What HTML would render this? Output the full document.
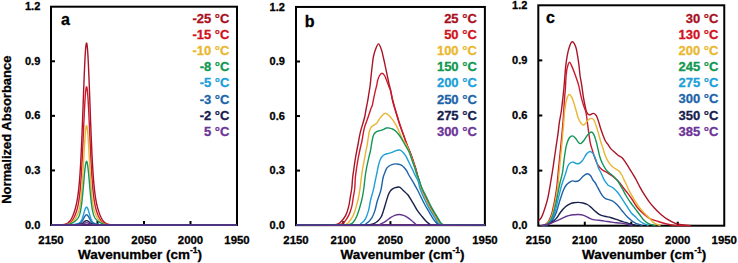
<!DOCTYPE html>
<html><head><meta charset="utf-8"><style>
html,body{margin:0;padding:0;background:#fff;}
body{width:738px;height:263px;overflow:hidden;font-family:"Liberation Sans",sans-serif;}
svg{display:block;}
</style></head><body>
<svg width="738" height="263" viewBox="0 0 738 263">
<defs>
<clipPath id="ca"><rect x="51.00" y="4.70" width="186.00" height="221.80"/></clipPath>
<clipPath id="cb"><rect x="296.00" y="4.95" width="188.90" height="221.70"/></clipPath>
<clipPath id="cc"><rect x="538.30" y="3.30" width="185.95" height="223.90"/></clipPath>
</defs>
<g font-family="Liberation Sans, sans-serif" font-weight="bold" stroke-linejoin="round">
<g stroke="#000" stroke-width="2" fill="none" stroke-linejoin="miter"><line x1="51.00" y1="170.43" x2="55.00" y2="170.43"/><line x1="51.00" y1="115.85" x2="55.00" y2="115.85"/><line x1="51.00" y1="61.27" x2="55.00" y2="61.27"/><line x1="97.50" y1="225.00" x2="97.50" y2="221.00"/><line x1="144.00" y1="225.00" x2="144.00" y2="221.00"/><line x1="190.50" y1="225.00" x2="190.50" y2="221.00"/><rect x="51.00" y="6.70" width="186.00" height="218.30" fill="none"/></g>
<g stroke="#000" stroke-width="2" fill="none" stroke-linejoin="miter"><line x1="296.00" y1="170.60" x2="300.00" y2="170.60"/><line x1="296.00" y1="116.05" x2="300.00" y2="116.05"/><line x1="296.00" y1="61.50" x2="300.00" y2="61.50"/><line x1="343.23" y1="225.15" x2="343.23" y2="221.15"/><line x1="390.45" y1="225.15" x2="390.45" y2="221.15"/><line x1="437.67" y1="225.15" x2="437.67" y2="221.15"/><rect x="296.00" y="6.95" width="188.90" height="218.20" fill="none"/></g>
<g stroke="#000" stroke-width="2" fill="none" stroke-linejoin="miter"><line x1="538.30" y1="170.60" x2="542.30" y2="170.60"/><line x1="538.30" y1="115.50" x2="542.30" y2="115.50"/><line x1="538.30" y1="60.40" x2="542.30" y2="60.40"/><line x1="584.79" y1="225.70" x2="584.79" y2="221.70"/><line x1="631.27" y1="225.70" x2="631.27" y2="221.70"/><line x1="677.76" y1="225.70" x2="677.76" y2="221.70"/><rect x="538.30" y="5.30" width="185.95" height="220.40" fill="none"/></g>
<line x1="52.00" y1="225.00" x2="236.00" y2="225.00" stroke="#62348C" stroke-width="1.7"/>
<line x1="297.00" y1="225.15" x2="483.90" y2="225.15" stroke="#62348C" stroke-width="1.7"/>
<g fill="none" stroke-width="1.40" stroke-linejoin="round" stroke-linecap="round" clip-path="url(#ca)"><path d="M51.00,225.00 L53.00,225.00 L55.00,224.99 L57.00,224.98 L57.25,224.98 L57.50,224.98 L57.75,224.97 L58.00,224.97 L58.25,224.96 L58.50,224.96 L58.75,224.95 L59.00,224.95 L59.25,224.94 L59.50,224.93 L59.75,224.92 L60.00,224.91 L60.25,224.90 L60.50,224.89 L60.75,224.88 L61.00,224.86 L61.25,224.85 L61.50,224.83 L61.75,224.81 L62.00,224.78 L62.25,224.76 L62.50,224.73 L62.75,224.70 L63.00,224.66 L63.25,224.63 L63.50,224.59 L63.75,224.54 L64.00,224.49 L64.25,224.44 L64.50,224.38 L64.75,224.31 L65.00,224.24 L65.25,224.16 L65.50,224.08 L65.75,223.99 L66.00,223.89 L66.25,223.78 L66.50,223.66 L66.75,223.54 L67.00,223.40 L67.25,223.25 L67.50,223.09 L67.75,222.92 L68.00,222.74 L68.25,222.54 L68.50,222.33 L68.75,222.11 L69.00,221.87 L69.25,221.61 L69.50,221.34 L69.75,221.04 L70.00,220.73 L70.25,220.40 L70.50,220.05 L70.75,219.68 L71.00,219.29 L71.25,218.88 L71.50,218.44 L71.75,217.99 L72.00,217.50 L72.25,216.99 L72.50,216.46 L72.75,215.90 L73.00,215.32 L73.25,214.70 L73.50,214.06 L73.75,213.39 L74.00,212.69 L74.25,211.96 L74.50,211.20 L74.75,210.40 L75.00,209.56 L75.25,208.68 L75.50,207.76 L75.75,206.80 L76.00,205.78 L76.25,204.70 L76.50,203.56 L76.75,202.35 L77.00,201.05 L77.25,199.66 L77.50,198.16 L77.75,196.55 L78.00,194.80 L78.25,192.90 L78.50,190.83 L78.75,188.57 L79.00,186.11 L79.25,183.41 L79.50,180.47 L79.75,177.26 L80.00,173.75 L80.25,169.95 L80.50,165.83 L80.75,161.38 L81.00,156.60 L81.25,151.49 L81.50,146.06 L81.75,140.31 L82.00,134.28 L82.25,128.00 L82.50,121.49 L82.75,114.82 L83.00,108.03 L83.25,101.19 L83.50,94.37 L83.75,87.65 L84.00,81.11 L84.25,74.84 L84.50,68.91 L84.75,63.42 L85.00,58.45 L85.25,54.06 L85.50,50.34 L85.75,47.34 L86.00,45.11 L86.25,43.69 L86.50,43.10 L86.75,43.35 L87.00,44.44 L87.25,46.35 L87.50,49.05 L87.75,52.49 L88.00,56.62 L88.25,61.36 L88.50,66.66 L88.75,72.42 L89.00,78.57 L89.25,85.01 L89.50,91.67 L89.75,98.45 L90.00,105.29 L90.25,112.11 L90.50,118.84 L90.75,125.42 L91.00,131.80 L91.25,137.93 L91.50,143.80 L91.75,149.36 L92.00,154.60 L92.25,159.51 L92.50,164.09 L92.75,168.34 L93.00,172.27 L93.25,175.89 L93.50,179.22 L93.75,182.27 L94.00,185.06 L94.25,187.61 L94.50,189.95 L94.75,192.10 L95.00,194.06 L95.25,195.87 L95.50,197.53 L95.75,199.07 L96.00,200.51 L96.25,201.84 L96.50,203.08 L96.75,204.25 L97.00,205.35 L97.25,206.40 L97.50,207.38 L97.75,208.32 L98.00,209.21 L98.25,210.07 L98.50,210.88 L98.75,211.66 L99.00,212.40 L99.25,213.12 L99.50,213.80 L99.75,214.45 L100.00,215.08 L100.25,215.67 L100.50,216.24 L100.75,216.78 L101.00,217.30 L101.25,217.79 L101.50,218.26 L101.75,218.71 L102.00,219.13 L102.25,219.53 L102.50,219.91 L102.75,220.27 L103.00,220.60 L103.25,220.92 L103.50,221.22 L103.75,221.50 L104.00,221.77 L104.25,222.01 L104.50,222.24 L104.75,222.46 L105.00,222.66 L105.25,222.85 L105.50,223.03 L105.75,223.19 L106.00,223.34 L106.25,223.48 L106.50,223.61 L106.75,223.73 L107.00,223.84 L107.25,223.95 L107.50,224.04 L107.75,224.13 L108.00,224.21 L108.25,224.28 L108.50,224.35 L108.75,224.41 L109.00,224.47 L109.25,224.52 L109.50,224.57 L109.75,224.61 L110.00,224.65 L110.25,224.68 L110.50,224.72 L110.75,224.75 L111.00,224.77 L111.25,224.80 L111.50,224.82 L111.75,224.84 L112.00,224.86 L112.25,224.87 L112.50,224.89 L112.75,224.90 L113.00,224.91 L113.25,224.92 L113.50,224.93 L113.75,224.94 L114.00,224.94 L114.25,224.95 L114.50,224.96 L114.75,224.96 L115.00,224.97 L115.25,224.97 L115.50,224.97 L115.75,224.98 L116.00,224.98 L116.25,224.98 L116.50,224.98 L116.75,224.99 L118.75,225.00 L120.75,225.00 L122.75,225.00 L124.75,225.00 L126.75,225.00 L128.75,225.00 L130.75,225.00 L132.75,225.00 L134.75,225.00 L136.75,225.00 L138.75,225.00 L140.75,225.00 L142.75,225.00 L144.75,225.00 L146.75,225.00 L148.75,225.00 L150.75,225.00 L152.75,225.00 L154.75,225.00 L156.75,225.00 L158.75,225.00 L160.75,225.00 L162.75,225.00 L164.75,225.00 L166.75,225.00 L168.75,225.00 L170.75,225.00 L172.75,225.00 L174.75,225.00 L176.75,225.00 L178.75,225.00 L180.75,225.00 L182.75,225.00 L184.75,225.00 L186.75,225.00 L188.75,225.00 L190.75,225.00 L192.75,225.00 L194.75,225.00 L196.75,225.00 L198.75,225.00 L200.75,225.00 L202.75,225.00 L204.75,225.00 L206.75,225.00 L208.75,225.00 L210.75,225.00 L212.75,225.00 L214.75,225.00 L216.75,225.00 L218.75,225.00 L220.75,225.00 L222.75,225.00 L224.75,225.00 L226.75,225.00 L228.75,225.00 L230.75,225.00 L232.75,225.00 L234.75,225.00 L236.75,225.00" stroke="#A81426"/><path d="M51.00,225.00 L53.00,225.00 L55.00,225.00 L57.00,224.99 L57.25,224.99 L57.50,224.99 L57.75,224.99 L58.00,224.99 L58.25,224.99 L58.50,224.99 L58.75,224.99 L59.00,224.98 L59.25,224.98 L59.50,224.98 L59.75,224.98 L60.00,224.97 L60.25,224.97 L60.50,224.96 L60.75,224.96 L61.00,224.95 L61.25,224.94 L61.50,224.94 L61.75,224.93 L62.00,224.92 L62.25,224.91 L62.50,224.90 L62.75,224.88 L63.00,224.87 L63.25,224.85 L63.50,224.83 L63.75,224.81 L64.00,224.79 L64.25,224.76 L64.50,224.74 L64.75,224.70 L65.00,224.67 L65.25,224.63 L65.50,224.59 L65.75,224.54 L66.00,224.49 L66.25,224.44 L66.50,224.38 L66.75,224.31 L67.00,224.24 L67.25,224.16 L67.50,224.07 L67.75,223.98 L68.00,223.88 L68.25,223.77 L68.50,223.65 L68.75,223.52 L69.00,223.38 L69.25,223.23 L69.50,223.07 L69.75,222.89 L70.00,222.71 L70.25,222.51 L70.50,222.29 L70.75,222.06 L71.00,221.82 L71.25,221.56 L71.50,221.28 L71.75,220.99 L72.00,220.68 L72.25,220.35 L72.50,220.00 L72.75,219.63 L73.00,219.24 L73.25,218.83 L73.50,218.40 L73.75,217.95 L74.00,217.48 L74.25,216.98 L74.50,216.46 L74.75,215.91 L75.00,215.34 L75.25,214.74 L75.50,214.11 L75.75,213.45 L76.00,212.76 L76.25,212.03 L76.50,211.26 L76.75,210.45 L77.00,209.58 L77.25,208.66 L77.50,207.67 L77.75,206.61 L78.00,205.46 L78.25,204.21 L78.50,202.85 L78.75,201.36 L79.00,199.72 L79.25,197.92 L79.50,195.94 L79.75,193.76 L80.00,191.35 L80.25,188.71 L80.50,185.81 L80.75,182.63 L81.00,179.18 L81.25,175.43 L81.50,171.39 L81.75,167.06 L82.00,162.44 L82.25,157.57 L82.50,152.47 L82.75,147.16 L83.00,141.70 L83.25,136.14 L83.50,130.54 L83.75,124.96 L84.00,119.48 L84.25,114.18 L84.50,109.14 L84.75,104.43 L85.00,100.14 L85.25,96.34 L85.50,93.10 L85.75,90.48 L86.00,88.52 L86.25,87.28 L86.50,86.76 L86.75,86.98 L87.00,87.94 L87.25,89.61 L87.50,91.97 L87.75,94.97 L88.00,98.56 L88.25,102.66 L88.50,107.21 L88.75,112.13 L89.00,117.34 L89.25,122.75 L89.50,128.30 L89.75,133.90 L90.00,139.49 L90.25,144.99 L90.50,150.37 L90.75,155.56 L91.00,160.53 L91.25,165.24 L91.50,169.69 L91.75,173.85 L92.00,177.71 L92.25,181.28 L92.50,184.57 L92.75,187.58 L93.00,190.32 L93.25,192.82 L93.50,195.09 L93.75,197.15 L94.00,199.02 L94.25,200.72 L94.50,202.27 L94.75,203.68 L95.00,204.97 L95.25,206.16 L95.50,207.26 L95.75,208.27 L96.00,209.22 L96.25,210.11 L96.50,210.94 L96.75,211.73 L97.00,212.48 L97.25,213.18 L97.50,213.85 L97.75,214.49 L98.00,215.10 L98.25,215.69 L98.50,216.24 L98.75,216.77 L99.00,217.28 L99.25,217.76 L99.50,218.22 L99.75,218.66 L100.00,219.08 L100.25,219.48 L100.50,219.85 L100.75,220.21 L101.00,220.55 L101.25,220.87 L101.50,221.17 L101.75,221.45 L102.00,221.72 L102.25,221.97 L102.50,222.20 L102.75,222.42 L103.00,222.63 L103.25,222.82 L103.50,223.00 L103.75,223.17 L104.00,223.32 L104.25,223.46 L104.50,223.60 L104.75,223.72 L105.00,223.83 L105.25,223.94 L105.50,224.04 L105.75,224.13 L106.00,224.21 L106.25,224.28 L106.50,224.35 L106.75,224.41 L107.00,224.47 L107.25,224.52 L107.50,224.57 L107.75,224.62 L108.00,224.66 L108.25,224.69 L108.50,224.72 L108.75,224.75 L109.00,224.78 L109.25,224.80 L109.50,224.83 L109.75,224.84 L110.00,224.86 L110.25,224.88 L110.50,224.89 L110.75,224.90 L111.00,224.92 L111.25,224.93 L111.50,224.93 L111.75,224.94 L112.00,224.95 L112.25,224.96 L112.50,224.96 L112.75,224.97 L113.00,224.97 L113.25,224.97 L113.50,224.98 L113.75,224.98 L114.00,224.98 L114.25,224.98 L114.50,224.99 L114.75,224.99 L115.00,224.99 L115.25,224.99 L115.50,224.99 L115.75,224.99 L116.00,224.99 L116.25,225.00 L116.50,225.00 L116.75,225.00 L118.75,225.00 L120.75,225.00 L122.75,225.00 L124.75,225.00 L126.75,225.00 L128.75,225.00 L130.75,225.00 L132.75,225.00 L134.75,225.00 L136.75,225.00 L138.75,225.00 L140.75,225.00 L142.75,225.00 L144.75,225.00 L146.75,225.00 L148.75,225.00 L150.75,225.00 L152.75,225.00 L154.75,225.00 L156.75,225.00 L158.75,225.00 L160.75,225.00 L162.75,225.00 L164.75,225.00 L166.75,225.00 L168.75,225.00 L170.75,225.00 L172.75,225.00 L174.75,225.00 L176.75,225.00 L178.75,225.00 L180.75,225.00 L182.75,225.00 L184.75,225.00 L186.75,225.00 L188.75,225.00 L190.75,225.00 L192.75,225.00 L194.75,225.00 L196.75,225.00 L198.75,225.00 L200.75,225.00 L202.75,225.00 L204.75,225.00 L206.75,225.00 L208.75,225.00 L210.75,225.00 L212.75,225.00 L214.75,225.00 L216.75,225.00 L218.75,225.00 L220.75,225.00 L222.75,225.00 L224.75,225.00 L226.75,225.00 L228.75,225.00 L230.75,225.00 L232.75,225.00 L234.75,225.00 L236.75,225.00" stroke="#CC1A2C"/><path d="M51.00,225.00 L53.00,225.00 L55.00,225.00 L57.00,225.00 L57.25,225.00 L57.50,225.00 L57.75,224.99 L58.00,224.99 L58.25,224.99 L58.50,224.99 L58.75,224.99 L59.00,224.99 L59.25,224.99 L59.50,224.99 L59.75,224.98 L60.00,224.98 L60.25,224.98 L60.50,224.98 L60.75,224.97 L61.00,224.97 L61.25,224.96 L61.50,224.96 L61.75,224.95 L62.00,224.95 L62.25,224.94 L62.50,224.93 L62.75,224.93 L63.00,224.92 L63.25,224.91 L63.50,224.89 L63.75,224.88 L64.00,224.87 L64.25,224.85 L64.50,224.83 L64.75,224.81 L65.00,224.79 L65.25,224.76 L65.50,224.74 L65.75,224.71 L66.00,224.68 L66.25,224.64 L66.50,224.60 L66.75,224.56 L67.00,224.51 L67.25,224.46 L67.50,224.41 L67.75,224.35 L68.00,224.28 L68.25,224.21 L68.50,224.13 L68.75,224.05 L69.00,223.96 L69.25,223.87 L69.50,223.76 L69.75,223.65 L70.00,223.53 L70.25,223.40 L70.50,223.27 L70.75,223.12 L71.00,222.96 L71.25,222.80 L71.50,222.62 L71.75,222.43 L72.00,222.23 L72.25,222.02 L72.50,221.80 L72.75,221.57 L73.00,221.32 L73.25,221.06 L73.50,220.78 L73.75,220.50 L74.00,220.20 L74.25,219.88 L74.50,219.55 L74.75,219.21 L75.00,218.85 L75.25,218.48 L75.50,218.09 L75.75,217.69 L76.00,217.27 L76.25,216.84 L76.50,216.38 L76.75,215.91 L77.00,215.41 L77.25,214.89 L77.50,214.33 L77.75,213.75 L78.00,213.12 L78.25,212.45 L78.50,211.71 L78.75,210.92 L79.00,210.04 L79.25,209.07 L79.50,207.99 L79.75,206.78 L80.00,205.43 L80.25,203.91 L80.50,202.20 L80.75,200.29 L81.00,198.15 L81.25,195.76 L81.50,193.12 L81.75,190.21 L82.00,187.03 L82.25,183.58 L82.50,179.88 L82.75,175.93 L83.00,171.77 L83.25,167.44 L83.50,162.99 L83.75,158.47 L84.00,153.95 L84.25,149.51 L84.50,145.22 L84.75,141.16 L85.00,137.42 L85.25,134.07 L85.50,131.20 L85.75,128.85 L86.00,127.10 L86.25,125.97 L86.50,125.50 L86.75,125.71 L87.00,126.57 L87.25,128.08 L87.50,130.19 L87.75,132.86 L88.00,136.03 L88.25,139.62 L88.50,143.56 L88.75,147.77 L89.00,152.16 L89.25,156.66 L89.50,161.18 L89.75,165.67 L90.00,170.06 L90.25,174.29 L90.50,178.32 L90.75,182.13 L91.00,185.69 L91.25,188.97 L91.50,191.99 L91.75,194.74 L92.00,197.22 L92.25,199.46 L92.50,201.46 L92.75,203.25 L93.00,204.84 L93.25,206.26 L93.50,207.52 L93.75,208.65 L94.00,209.66 L94.25,210.58 L94.50,211.40 L94.75,212.16 L95.00,212.86 L95.25,213.50 L95.50,214.10 L95.75,214.67 L96.00,215.20 L96.25,215.71 L96.50,216.19 L96.75,216.66 L97.00,217.10 L97.25,217.53 L97.50,217.93 L97.75,218.33 L98.00,218.71 L98.25,219.07 L98.50,219.42 L98.75,219.75 L99.00,220.07 L99.25,220.38 L99.50,220.67 L99.75,220.95 L100.00,221.22 L100.25,221.47 L100.50,221.71 L100.75,221.94 L101.00,222.15 L101.25,222.36 L101.50,222.55 L101.75,222.73 L102.00,222.90 L102.25,223.06 L102.50,223.21 L102.75,223.35 L103.00,223.48 L103.25,223.60 L103.50,223.72 L103.75,223.83 L104.00,223.93 L104.25,224.02 L104.50,224.10 L104.75,224.18 L105.00,224.25 L105.25,224.32 L105.50,224.38 L105.75,224.44 L106.00,224.49 L106.25,224.54 L106.50,224.59 L106.75,224.63 L107.00,224.66 L107.25,224.70 L107.50,224.73 L107.75,224.75 L108.00,224.78 L108.25,224.80 L108.50,224.82 L108.75,224.84 L109.00,224.86 L109.25,224.87 L109.50,224.89 L109.75,224.90 L110.00,224.91 L110.25,224.92 L110.50,224.93 L110.75,224.94 L111.00,224.95 L111.25,224.95 L111.50,224.96 L111.75,224.96 L112.00,224.97 L112.25,224.97 L112.50,224.97 L112.75,224.98 L113.00,224.98 L113.25,224.98 L113.50,224.99 L113.75,224.99 L114.00,224.99 L114.25,224.99 L114.50,224.99 L114.75,224.99 L115.00,224.99 L115.25,224.99 L115.50,225.00 L115.75,225.00 L116.00,225.00 L116.25,225.00 L116.50,225.00 L116.75,225.00 L118.75,225.00 L120.75,225.00 L122.75,225.00 L124.75,225.00 L126.75,225.00 L128.75,225.00 L130.75,225.00 L132.75,225.00 L134.75,225.00 L136.75,225.00 L138.75,225.00 L140.75,225.00 L142.75,225.00 L144.75,225.00 L146.75,225.00 L148.75,225.00 L150.75,225.00 L152.75,225.00 L154.75,225.00 L156.75,225.00 L158.75,225.00 L160.75,225.00 L162.75,225.00 L164.75,225.00 L166.75,225.00 L168.75,225.00 L170.75,225.00 L172.75,225.00 L174.75,225.00 L176.75,225.00 L178.75,225.00 L180.75,225.00 L182.75,225.00 L184.75,225.00 L186.75,225.00 L188.75,225.00 L190.75,225.00 L192.75,225.00 L194.75,225.00 L196.75,225.00 L198.75,225.00 L200.75,225.00 L202.75,225.00 L204.75,225.00 L206.75,225.00 L208.75,225.00 L210.75,225.00 L212.75,225.00 L214.75,225.00 L216.75,225.00 L218.75,225.00 L220.75,225.00 L222.75,225.00 L224.75,225.00 L226.75,225.00 L228.75,225.00 L230.75,225.00 L232.75,225.00 L234.75,225.00 L236.75,225.00" stroke="#E8B634"/><path d="M51.00,225.00 L53.00,225.00 L55.00,225.00 L57.00,225.00 L57.25,224.99 L57.50,224.99 L57.75,224.99 L58.00,224.99 L58.25,224.99 L58.50,224.99 L58.75,224.99 L59.00,224.99 L59.25,224.99 L59.50,224.98 L59.75,224.98 L60.00,224.98 L60.25,224.98 L60.50,224.97 L60.75,224.97 L61.00,224.97 L61.25,224.96 L61.50,224.96 L61.75,224.95 L62.00,224.95 L62.25,224.94 L62.50,224.93 L62.75,224.92 L63.00,224.92 L63.25,224.91 L63.50,224.90 L63.75,224.88 L64.00,224.87 L64.25,224.86 L64.50,224.84 L64.75,224.83 L65.00,224.81 L65.25,224.79 L65.50,224.77 L65.75,224.75 L66.00,224.72 L66.25,224.69 L66.50,224.67 L66.75,224.63 L67.00,224.60 L67.25,224.56 L67.50,224.52 L67.75,224.48 L68.00,224.44 L68.25,224.39 L68.50,224.33 L68.75,224.28 L69.00,224.22 L69.25,224.15 L69.50,224.08 L69.75,224.01 L70.00,223.93 L70.25,223.85 L70.50,223.76 L70.75,223.67 L71.00,223.57 L71.25,223.47 L71.50,223.36 L71.75,223.25 L72.00,223.13 L72.25,223.00 L72.50,222.87 L72.75,222.73 L73.00,222.58 L73.25,222.43 L73.50,222.27 L73.75,222.11 L74.00,221.94 L74.25,221.76 L74.50,221.57 L74.75,221.38 L75.00,221.18 L75.25,220.98 L75.50,220.76 L75.75,220.54 L76.00,220.31 L76.25,220.07 L76.50,219.81 L76.75,219.55 L77.00,219.27 L77.25,218.97 L77.50,218.66 L77.75,218.31 L78.00,217.94 L78.25,217.54 L78.50,217.09 L78.75,216.60 L79.00,216.05 L79.25,215.43 L79.50,214.73 L79.75,213.94 L80.00,213.04 L80.25,212.04 L80.50,210.90 L80.75,209.62 L81.00,208.19 L81.25,206.60 L81.50,204.84 L81.75,202.91 L82.00,200.80 L82.25,198.53 L82.50,196.09 L82.75,193.51 L83.00,190.80 L83.25,187.99 L83.50,185.12 L83.75,182.21 L84.00,179.32 L84.25,176.49 L84.50,173.76 L84.75,171.19 L85.00,168.83 L85.25,166.72 L85.50,164.91 L85.75,163.44 L86.00,162.34 L86.25,161.63 L86.50,161.34 L86.75,161.46 L87.00,162.00 L87.25,162.95 L87.50,164.28 L87.75,165.96 L88.00,167.95 L88.25,170.22 L88.50,172.71 L88.75,175.38 L89.00,178.18 L89.25,181.05 L89.50,183.96 L89.75,186.85 L90.00,189.69 L90.25,192.44 L90.50,195.07 L90.75,197.57 L91.00,199.91 L91.25,202.09 L91.50,204.09 L91.75,205.92 L92.00,207.58 L92.25,209.07 L92.50,210.41 L92.75,211.60 L93.00,212.66 L93.25,213.59 L93.50,214.42 L93.75,215.16 L94.00,215.81 L94.25,216.39 L94.50,216.90 L94.75,217.37 L95.00,217.79 L95.25,218.17 L95.50,218.52 L95.75,218.85 L96.00,219.15 L96.25,219.44 L96.50,219.71 L96.75,219.97 L97.00,220.21 L97.25,220.45 L97.50,220.67 L97.75,220.89 L98.00,221.10 L98.25,221.30 L98.50,221.50 L98.75,221.69 L99.00,221.87 L99.25,222.04 L99.50,222.21 L99.75,222.37 L100.00,222.52 L100.25,222.67 L100.50,222.81 L100.75,222.95 L101.00,223.08 L101.25,223.20 L101.50,223.32 L101.75,223.43 L102.00,223.53 L102.25,223.63 L102.50,223.73 L102.75,223.82 L103.00,223.90 L103.25,223.98 L103.50,224.06 L103.75,224.13 L104.00,224.19 L104.25,224.25 L104.50,224.31 L104.75,224.37 L105.00,224.42 L105.25,224.46 L105.50,224.51 L105.75,224.55 L106.00,224.59 L106.25,224.62 L106.50,224.65 L106.75,224.68 L107.00,224.71 L107.25,224.74 L107.50,224.76 L107.75,224.78 L108.00,224.80 L108.25,224.82 L108.50,224.84 L108.75,224.85 L109.00,224.87 L109.25,224.88 L109.50,224.89 L109.75,224.90 L110.00,224.91 L110.25,224.92 L110.50,224.93 L110.75,224.94 L111.00,224.94 L111.25,224.95 L111.50,224.95 L111.75,224.96 L112.00,224.96 L112.25,224.97 L112.50,224.97 L112.75,224.97 L113.00,224.98 L113.25,224.98 L113.50,224.98 L113.75,224.98 L114.00,224.99 L114.25,224.99 L114.50,224.99 L114.75,224.99 L115.00,224.99 L115.25,224.99 L115.50,224.99 L115.75,224.99 L116.00,225.00 L116.25,225.00 L116.50,225.00 L116.75,225.00 L118.75,225.00 L120.75,225.00 L122.75,225.00 L124.75,225.00 L126.75,225.00 L128.75,225.00 L130.75,225.00 L132.75,225.00 L134.75,225.00 L136.75,225.00 L138.75,225.00 L140.75,225.00 L142.75,225.00 L144.75,225.00 L146.75,225.00 L148.75,225.00 L150.75,225.00 L152.75,225.00 L154.75,225.00 L156.75,225.00 L158.75,225.00 L160.75,225.00 L162.75,225.00 L164.75,225.00 L166.75,225.00 L168.75,225.00 L170.75,225.00 L172.75,225.00 L174.75,225.00 L176.75,225.00 L178.75,225.00 L180.75,225.00 L182.75,225.00 L184.75,225.00 L186.75,225.00 L188.75,225.00 L190.75,225.00 L192.75,225.00 L194.75,225.00 L196.75,225.00 L198.75,225.00 L200.75,225.00 L202.75,225.00 L204.75,225.00 L206.75,225.00 L208.75,225.00 L210.75,225.00 L212.75,225.00 L214.75,225.00 L216.75,225.00 L218.75,225.00 L220.75,225.00 L222.75,225.00 L224.75,225.00 L226.75,225.00 L228.75,225.00 L230.75,225.00 L232.75,225.00 L234.75,225.00 L236.75,225.00" stroke="#14965A"/><path d="M51.00,225.00 L53.00,225.00 L55.00,225.00 L57.00,225.00 L57.25,225.00 L57.50,225.00 L57.75,225.00 L58.00,225.00 L58.25,225.00 L58.50,225.00 L58.75,225.00 L59.00,225.00 L59.25,225.00 L59.50,225.00 L59.75,225.00 L60.00,225.00 L60.25,225.00 L60.50,225.00 L60.75,225.00 L61.00,225.00 L61.25,225.00 L61.50,225.00 L61.75,225.00 L62.00,225.00 L62.25,225.00 L62.50,225.00 L62.75,225.00 L63.00,225.00 L63.25,225.00 L63.50,224.99 L63.75,224.99 L64.00,224.99 L64.25,224.99 L64.50,224.99 L64.75,224.99 L65.00,224.99 L65.25,224.99 L65.50,224.98 L65.75,224.98 L66.00,224.98 L66.25,224.98 L66.50,224.97 L66.75,224.97 L67.00,224.97 L67.25,224.96 L67.50,224.96 L67.75,224.95 L68.00,224.95 L68.25,224.94 L68.50,224.94 L68.75,224.93 L69.00,224.92 L69.25,224.91 L69.50,224.90 L69.75,224.89 L70.00,224.88 L70.25,224.87 L70.50,224.85 L70.75,224.84 L71.00,224.82 L71.25,224.80 L71.50,224.78 L71.75,224.76 L72.00,224.74 L72.25,224.71 L72.50,224.69 L72.75,224.66 L73.00,224.63 L73.25,224.60 L73.50,224.56 L73.75,224.53 L74.00,224.49 L74.25,224.45 L74.50,224.40 L74.75,224.36 L75.00,224.31 L75.25,224.26 L75.50,224.21 L75.75,224.15 L76.00,224.09 L76.25,224.03 L76.50,223.96 L76.75,223.89 L77.00,223.82 L77.25,223.74 L77.50,223.66 L77.75,223.57 L78.00,223.48 L78.25,223.38 L78.50,223.26 L78.75,223.14 L79.00,223.00 L79.25,222.85 L79.50,222.67 L79.75,222.48 L80.00,222.25 L80.25,222.00 L80.50,221.71 L80.75,221.38 L81.00,221.01 L81.25,220.60 L81.50,220.13 L81.75,219.61 L82.00,219.03 L82.25,218.40 L82.50,217.72 L82.75,216.98 L83.00,216.20 L83.25,215.38 L83.50,214.53 L83.75,213.66 L84.00,212.79 L84.25,211.92 L84.50,211.08 L84.75,210.28 L85.00,209.55 L85.25,208.88 L85.50,208.31 L85.75,207.84 L86.00,207.49 L86.25,207.27 L86.50,207.17 L86.75,207.22 L87.00,207.39 L87.25,207.69 L87.50,208.11 L87.75,208.64 L88.00,209.27 L88.25,209.98 L88.50,210.76 L88.75,211.58 L89.00,212.44 L89.25,213.31 L89.50,214.18 L89.75,215.04 L90.00,215.88 L90.25,216.67 L90.50,217.43 L90.75,218.14 L91.00,218.79 L91.25,219.39 L91.50,219.93 L91.75,220.42 L92.00,220.85 L92.25,221.24 L92.50,221.59 L92.75,221.89 L93.00,222.15 L93.25,222.39 L93.50,222.60 L93.75,222.78 L94.00,222.94 L94.25,223.08 L94.50,223.21 L94.75,223.33 L95.00,223.44 L95.25,223.54 L95.50,223.63 L95.75,223.71 L96.00,223.79 L96.25,223.87 L96.50,223.94 L96.75,224.00 L97.00,224.07 L97.25,224.13 L97.50,224.18 L97.75,224.24 L98.00,224.29 L98.25,224.34 L98.50,224.39 L98.75,224.43 L99.00,224.47 L99.25,224.51 L99.50,224.55 L99.75,224.58 L100.00,224.62 L100.25,224.65 L100.50,224.68 L100.75,224.70 L101.00,224.73 L101.25,224.75 L101.50,224.77 L101.75,224.79 L102.00,224.81 L102.25,224.83 L102.50,224.84 L102.75,224.86 L103.00,224.87 L103.25,224.89 L103.50,224.90 L103.75,224.91 L104.00,224.92 L104.25,224.92 L104.50,224.93 L104.75,224.94 L105.00,224.95 L105.25,224.95 L105.50,224.96 L105.75,224.96 L106.00,224.97 L106.25,224.97 L106.50,224.97 L106.75,224.98 L107.00,224.98 L107.25,224.98 L107.50,224.98 L107.75,224.99 L108.00,224.99 L108.25,224.99 L108.50,224.99 L108.75,224.99 L109.00,224.99 L109.25,224.99 L109.50,224.99 L109.75,225.00 L110.00,225.00 L110.25,225.00 L110.50,225.00 L110.75,225.00 L111.00,225.00 L111.25,225.00 L111.50,225.00 L111.75,225.00 L112.00,225.00 L112.25,225.00 L112.50,225.00 L112.75,225.00 L113.00,225.00 L113.25,225.00 L113.50,225.00 L113.75,225.00 L114.00,225.00 L114.25,225.00 L114.50,225.00 L114.75,225.00 L115.00,225.00 L115.25,225.00 L115.50,225.00 L115.75,225.00 L116.00,225.00 L116.25,225.00 L116.50,225.00 L116.75,225.00 L118.75,225.00 L120.75,225.00 L122.75,225.00 L124.75,225.00 L126.75,225.00 L128.75,225.00 L130.75,225.00 L132.75,225.00 L134.75,225.00 L136.75,225.00 L138.75,225.00 L140.75,225.00 L142.75,225.00 L144.75,225.00 L146.75,225.00 L148.75,225.00 L150.75,225.00 L152.75,225.00 L154.75,225.00 L156.75,225.00 L158.75,225.00 L160.75,225.00 L162.75,225.00 L164.75,225.00 L166.75,225.00 L168.75,225.00 L170.75,225.00 L172.75,225.00 L174.75,225.00 L176.75,225.00 L178.75,225.00 L180.75,225.00 L182.75,225.00 L184.75,225.00 L186.75,225.00 L188.75,225.00 L190.75,225.00 L192.75,225.00 L194.75,225.00 L196.75,225.00 L198.75,225.00 L200.75,225.00 L202.75,225.00 L204.75,225.00 L206.75,225.00 L208.75,225.00 L210.75,225.00 L212.75,225.00 L214.75,225.00 L216.75,225.00 L218.75,225.00 L220.75,225.00 L222.75,225.00 L224.75,225.00 L226.75,225.00 L228.75,225.00 L230.75,225.00 L232.75,225.00 L234.75,225.00 L236.75,225.00" stroke="#1EA0D6"/><path d="M51.00,225.00 L53.00,225.00 L55.00,225.00 L57.00,225.00 L57.25,225.00 L57.50,225.00 L57.75,225.00 L58.00,225.00 L58.25,225.00 L58.50,225.00 L58.75,225.00 L59.00,225.00 L59.25,225.00 L59.50,225.00 L59.75,225.00 L60.00,225.00 L60.25,225.00 L60.50,225.00 L60.75,225.00 L61.00,225.00 L61.25,225.00 L61.50,225.00 L61.75,225.00 L62.00,225.00 L62.25,225.00 L62.50,225.00 L62.75,225.00 L63.00,225.00 L63.25,225.00 L63.50,225.00 L63.75,225.00 L64.00,225.00 L64.25,225.00 L64.50,224.99 L64.75,224.99 L65.00,224.99 L65.25,224.99 L65.50,224.99 L65.75,224.99 L66.00,224.99 L66.25,224.99 L66.50,224.99 L66.75,224.98 L67.00,224.98 L67.25,224.98 L67.50,224.98 L67.75,224.97 L68.00,224.97 L68.25,224.97 L68.50,224.96 L68.75,224.96 L69.00,224.95 L69.25,224.95 L69.50,224.94 L69.75,224.94 L70.00,224.93 L70.25,224.92 L70.50,224.91 L70.75,224.91 L71.00,224.90 L71.25,224.89 L71.50,224.87 L71.75,224.86 L72.00,224.85 L72.25,224.84 L72.50,224.82 L72.75,224.81 L73.00,224.79 L73.25,224.77 L73.50,224.75 L73.75,224.73 L74.00,224.71 L74.25,224.68 L74.50,224.66 L74.75,224.63 L75.00,224.61 L75.25,224.58 L75.50,224.54 L75.75,224.51 L76.00,224.48 L76.25,224.44 L76.50,224.40 L76.75,224.36 L77.00,224.32 L77.25,224.27 L77.50,224.22 L77.75,224.16 L78.00,224.11 L78.25,224.04 L78.50,223.97 L78.75,223.89 L79.00,223.80 L79.25,223.70 L79.50,223.58 L79.75,223.46 L80.00,223.31 L80.25,223.15 L80.50,222.96 L80.75,222.76 L81.00,222.53 L81.25,222.27 L81.50,221.98 L81.75,221.67 L82.00,221.33 L82.25,220.96 L82.50,220.56 L82.75,220.14 L83.00,219.69 L83.25,219.23 L83.50,218.76 L83.75,218.28 L84.00,217.80 L84.25,217.33 L84.50,216.88 L84.75,216.45 L85.00,216.06 L85.25,215.71 L85.50,215.41 L85.75,215.16 L86.00,214.98 L86.25,214.86 L86.50,214.81 L86.75,214.84 L87.00,214.93 L87.25,215.08 L87.50,215.30 L87.75,215.58 L88.00,215.92 L88.25,216.29 L88.50,216.71 L88.75,217.15 L89.00,217.61 L89.25,218.09 L89.50,218.57 L89.75,219.04 L90.00,219.51 L90.25,219.96 L90.50,220.39 L90.75,220.80 L91.00,221.18 L91.25,221.54 L91.50,221.86 L91.75,222.16 L92.00,222.43 L92.25,222.67 L92.50,222.88 L92.75,223.08 L93.00,223.25 L93.25,223.40 L93.50,223.53 L93.75,223.65 L94.00,223.76 L94.25,223.85 L94.50,223.94 L94.75,224.01 L95.00,224.08 L95.25,224.14 L95.50,224.20 L95.75,224.25 L96.00,224.30 L96.25,224.34 L96.50,224.39 L96.75,224.43 L97.00,224.46 L97.25,224.50 L97.50,224.53 L97.75,224.56 L98.00,224.59 L98.25,224.62 L98.50,224.65 L98.75,224.67 L99.00,224.70 L99.25,224.72 L99.50,224.74 L99.75,224.76 L100.00,224.78 L100.25,224.80 L100.50,224.81 L100.75,224.83 L101.00,224.84 L101.25,224.86 L101.50,224.87 L101.75,224.88 L102.00,224.89 L102.25,224.90 L102.50,224.91 L102.75,224.92 L103.00,224.93 L103.25,224.93 L103.50,224.94 L103.75,224.95 L104.00,224.95 L104.25,224.96 L104.50,224.96 L104.75,224.97 L105.00,224.97 L105.25,224.97 L105.50,224.98 L105.75,224.98 L106.00,224.98 L106.25,224.98 L106.50,224.98 L106.75,224.99 L107.00,224.99 L107.25,224.99 L107.50,224.99 L107.75,224.99 L108.00,224.99 L108.25,224.99 L108.50,224.99 L108.75,225.00 L109.00,225.00 L109.25,225.00 L109.50,225.00 L109.75,225.00 L110.00,225.00 L110.25,225.00 L110.50,225.00 L110.75,225.00 L111.00,225.00 L111.25,225.00 L111.50,225.00 L111.75,225.00 L112.00,225.00 L112.25,225.00 L112.50,225.00 L112.75,225.00 L113.00,225.00 L113.25,225.00 L113.50,225.00 L113.75,225.00 L114.00,225.00 L114.25,225.00 L114.50,225.00 L114.75,225.00 L115.00,225.00 L115.25,225.00 L115.50,225.00 L115.75,225.00 L116.00,225.00 L116.25,225.00 L116.50,225.00 L116.75,225.00 L118.75,225.00 L120.75,225.00 L122.75,225.00 L124.75,225.00 L126.75,225.00 L128.75,225.00 L130.75,225.00 L132.75,225.00 L134.75,225.00 L136.75,225.00 L138.75,225.00 L140.75,225.00 L142.75,225.00 L144.75,225.00 L146.75,225.00 L148.75,225.00 L150.75,225.00 L152.75,225.00 L154.75,225.00 L156.75,225.00 L158.75,225.00 L160.75,225.00 L162.75,225.00 L164.75,225.00 L166.75,225.00 L168.75,225.00 L170.75,225.00 L172.75,225.00 L174.75,225.00 L176.75,225.00 L178.75,225.00 L180.75,225.00 L182.75,225.00 L184.75,225.00 L186.75,225.00 L188.75,225.00 L190.75,225.00 L192.75,225.00 L194.75,225.00 L196.75,225.00 L198.75,225.00 L200.75,225.00 L202.75,225.00 L204.75,225.00 L206.75,225.00 L208.75,225.00 L210.75,225.00 L212.75,225.00 L214.75,225.00 L216.75,225.00 L218.75,225.00 L220.75,225.00 L222.75,225.00 L224.75,225.00 L226.75,225.00 L228.75,225.00 L230.75,225.00 L232.75,225.00 L234.75,225.00 L236.75,225.00" stroke="#1E62A8"/><path d="M51.00,225.00 L53.00,225.00 L55.00,225.00 L57.00,225.00 L57.25,225.00 L57.50,225.00 L57.75,225.00 L58.00,225.00 L58.25,225.00 L58.50,225.00 L58.75,225.00 L59.00,225.00 L59.25,225.00 L59.50,225.00 L59.75,225.00 L60.00,225.00 L60.25,225.00 L60.50,225.00 L60.75,225.00 L61.00,225.00 L61.25,225.00 L61.50,225.00 L61.75,225.00 L62.00,225.00 L62.25,225.00 L62.50,225.00 L62.75,225.00 L63.00,225.00 L63.25,225.00 L63.50,225.00 L63.75,225.00 L64.00,225.00 L64.25,225.00 L64.50,225.00 L64.75,225.00 L65.00,225.00 L65.25,225.00 L65.50,225.00 L65.75,225.00 L66.00,225.00 L66.25,224.99 L66.50,224.99 L66.75,224.99 L67.00,224.99 L67.25,224.99 L67.50,224.99 L67.75,224.99 L68.00,224.99 L68.25,224.99 L68.50,224.98 L68.75,224.98 L69.00,224.98 L69.25,224.98 L69.50,224.98 L69.75,224.97 L70.00,224.97 L70.25,224.97 L70.50,224.96 L70.75,224.96 L71.00,224.96 L71.25,224.95 L71.50,224.95 L71.75,224.94 L72.00,224.94 L72.25,224.93 L72.50,224.92 L72.75,224.92 L73.00,224.91 L73.25,224.90 L73.50,224.89 L73.75,224.88 L74.00,224.87 L74.25,224.86 L74.50,224.85 L74.75,224.84 L75.00,224.83 L75.25,224.82 L75.50,224.80 L75.75,224.79 L76.00,224.78 L76.25,224.76 L76.50,224.74 L76.75,224.73 L77.00,224.71 L77.25,224.69 L77.50,224.67 L77.75,224.64 L78.00,224.62 L78.25,224.59 L78.50,224.56 L78.75,224.52 L79.00,224.48 L79.25,224.44 L79.50,224.39 L79.75,224.34 L80.00,224.28 L80.25,224.21 L80.50,224.13 L80.75,224.04 L81.00,223.94 L81.25,223.83 L81.50,223.71 L81.75,223.57 L82.00,223.43 L82.25,223.27 L82.50,223.10 L82.75,222.92 L83.00,222.72 L83.25,222.53 L83.50,222.32 L83.75,222.12 L84.00,221.91 L84.25,221.71 L84.50,221.52 L84.75,221.34 L85.00,221.17 L85.25,221.02 L85.50,220.89 L85.75,220.78 L86.00,220.71 L86.25,220.66 L86.50,220.63 L86.75,220.64 L87.00,220.68 L87.25,220.75 L87.50,220.84 L87.75,220.96 L88.00,221.11 L88.25,221.27 L88.50,221.45 L88.75,221.64 L89.00,221.83 L89.25,222.04 L89.50,222.24 L89.75,222.45 L90.00,222.65 L90.25,222.84 L90.50,223.02 L90.75,223.20 L91.00,223.36 L91.25,223.52 L91.50,223.65 L91.75,223.78 L92.00,223.90 L92.25,224.00 L92.50,224.09 L92.75,224.18 L93.00,224.25 L93.25,224.31 L93.50,224.37 L93.75,224.42 L94.00,224.47 L94.25,224.51 L94.50,224.54 L94.75,224.58 L95.00,224.61 L95.25,224.63 L95.50,224.66 L95.75,224.68 L96.00,224.70 L96.25,224.72 L96.50,224.74 L96.75,224.75 L97.00,224.77 L97.25,224.79 L97.50,224.80 L97.75,224.81 L98.00,224.83 L98.25,224.84 L98.50,224.85 L98.75,224.86 L99.00,224.87 L99.25,224.88 L99.50,224.89 L99.75,224.90 L100.00,224.91 L100.25,224.91 L100.50,224.92 L100.75,224.93 L101.00,224.93 L101.25,224.94 L101.50,224.94 L101.75,224.95 L102.00,224.95 L102.25,224.96 L102.50,224.96 L102.75,224.97 L103.00,224.97 L103.25,224.97 L103.50,224.97 L103.75,224.98 L104.00,224.98 L104.25,224.98 L104.50,224.98 L104.75,224.99 L105.00,224.99 L105.25,224.99 L105.50,224.99 L105.75,224.99 L106.00,224.99 L106.25,224.99 L106.50,224.99 L106.75,224.99 L107.00,224.99 L107.25,225.00 L107.50,225.00 L107.75,225.00 L108.00,225.00 L108.25,225.00 L108.50,225.00 L108.75,225.00 L109.00,225.00 L109.25,225.00 L109.50,225.00 L109.75,225.00 L110.00,225.00 L110.25,225.00 L110.50,225.00 L110.75,225.00 L111.00,225.00 L111.25,225.00 L111.50,225.00 L111.75,225.00 L112.00,225.00 L112.25,225.00 L112.50,225.00 L112.75,225.00 L113.00,225.00 L113.25,225.00 L113.50,225.00 L113.75,225.00 L114.00,225.00 L114.25,225.00 L114.50,225.00 L114.75,225.00 L115.00,225.00 L115.25,225.00 L115.50,225.00 L115.75,225.00 L116.00,225.00 L116.25,225.00 L116.50,225.00 L116.75,225.00 L118.75,225.00 L120.75,225.00 L122.75,225.00 L124.75,225.00 L126.75,225.00 L128.75,225.00 L130.75,225.00 L132.75,225.00 L134.75,225.00 L136.75,225.00 L138.75,225.00 L140.75,225.00 L142.75,225.00 L144.75,225.00 L146.75,225.00 L148.75,225.00 L150.75,225.00 L152.75,225.00 L154.75,225.00 L156.75,225.00 L158.75,225.00 L160.75,225.00 L162.75,225.00 L164.75,225.00 L166.75,225.00 L168.75,225.00 L170.75,225.00 L172.75,225.00 L174.75,225.00 L176.75,225.00 L178.75,225.00 L180.75,225.00 L182.75,225.00 L184.75,225.00 L186.75,225.00 L188.75,225.00 L190.75,225.00 L192.75,225.00 L194.75,225.00 L196.75,225.00 L198.75,225.00 L200.75,225.00 L202.75,225.00 L204.75,225.00 L206.75,225.00 L208.75,225.00 L210.75,225.00 L212.75,225.00 L214.75,225.00 L216.75,225.00 L218.75,225.00 L220.75,225.00 L222.75,225.00 L224.75,225.00 L226.75,225.00 L228.75,225.00 L230.75,225.00 L232.75,225.00 L234.75,225.00 L236.75,225.00" stroke="#18204C"/><path d="M51.00,225.00 L53.00,225.00 L55.00,225.00 L57.00,225.00 L57.25,225.00 L57.50,225.00 L57.75,225.00 L58.00,225.00 L58.25,225.00 L58.50,225.00 L58.75,225.00 L59.00,225.00 L59.25,225.00 L59.50,225.00 L59.75,225.00 L60.00,225.00 L60.25,225.00 L60.50,225.00 L60.75,225.00 L61.00,225.00 L61.25,225.00 L61.50,225.00 L61.75,225.00 L62.00,225.00 L62.25,225.00 L62.50,225.00 L62.75,225.00 L63.00,225.00 L63.25,225.00 L63.50,225.00 L63.75,225.00 L64.00,225.00 L64.25,225.00 L64.50,225.00 L64.75,225.00 L65.00,225.00 L65.25,225.00 L65.50,225.00 L65.75,225.00 L66.00,225.00 L66.25,225.00 L66.50,225.00 L66.75,225.00 L67.00,225.00 L67.25,225.00 L67.50,225.00 L67.75,224.99 L68.00,224.99 L68.25,224.99 L68.50,224.99 L68.75,224.99 L69.00,224.99 L69.25,224.99 L69.50,224.99 L69.75,224.99 L70.00,224.99 L70.25,224.98 L70.50,224.98 L70.75,224.98 L71.00,224.98 L71.25,224.98 L71.50,224.97 L71.75,224.97 L72.00,224.97 L72.25,224.96 L72.50,224.96 L72.75,224.96 L73.00,224.95 L73.25,224.95 L73.50,224.95 L73.75,224.94 L74.00,224.94 L74.25,224.93 L74.50,224.93 L74.75,224.92 L75.00,224.92 L75.25,224.91 L75.50,224.90 L75.75,224.90 L76.00,224.89 L76.25,224.88 L76.50,224.87 L76.75,224.86 L77.00,224.85 L77.25,224.84 L77.50,224.83 L77.75,224.82 L78.00,224.81 L78.25,224.79 L78.50,224.78 L78.75,224.76 L79.00,224.74 L79.25,224.72 L79.50,224.70 L79.75,224.67 L80.00,224.64 L80.25,224.60 L80.50,224.56 L80.75,224.52 L81.00,224.47 L81.25,224.41 L81.50,224.35 L81.75,224.29 L82.00,224.21 L82.25,224.13 L82.50,224.05 L82.75,223.96 L83.00,223.86 L83.25,223.76 L83.50,223.66 L83.75,223.56 L84.00,223.46 L84.25,223.36 L84.50,223.26 L84.75,223.17 L85.00,223.08 L85.25,223.01 L85.50,222.94 L85.75,222.89 L86.00,222.85 L86.25,222.83 L86.50,222.82 L86.75,222.82 L87.00,222.84 L87.25,222.87 L87.50,222.92 L87.75,222.98 L88.00,223.05 L88.25,223.13 L88.50,223.22 L88.75,223.32 L89.00,223.42 L89.25,223.52 L89.50,223.62 L89.75,223.72 L90.00,223.82 L90.25,223.92 L90.50,224.01 L90.75,224.10 L91.00,224.18 L91.25,224.26 L91.50,224.33 L91.75,224.39 L92.00,224.45 L92.25,224.50 L92.50,224.55 L92.75,224.59 L93.00,224.62 L93.25,224.66 L93.50,224.69 L93.75,224.71 L94.00,224.73 L94.25,224.75 L94.50,224.77 L94.75,224.79 L95.00,224.80 L95.25,224.82 L95.50,224.83 L95.75,224.84 L96.00,224.85 L96.25,224.86 L96.50,224.87 L96.75,224.88 L97.00,224.88 L97.25,224.89 L97.50,224.90 L97.75,224.91 L98.00,224.91 L98.25,224.92 L98.50,224.92 L98.75,224.93 L99.00,224.94 L99.25,224.94 L99.50,224.94 L99.75,224.95 L100.00,224.95 L100.25,224.96 L100.50,224.96 L100.75,224.96 L101.00,224.97 L101.25,224.97 L101.50,224.97 L101.75,224.97 L102.00,224.98 L102.25,224.98 L102.50,224.98 L102.75,224.98 L103.00,224.98 L103.25,224.99 L103.50,224.99 L103.75,224.99 L104.00,224.99 L104.25,224.99 L104.50,224.99 L104.75,224.99 L105.00,224.99 L105.25,224.99 L105.50,224.99 L105.75,225.00 L106.00,225.00 L106.25,225.00 L106.50,225.00 L106.75,225.00 L107.00,225.00 L107.25,225.00 L107.50,225.00 L107.75,225.00 L108.00,225.00 L108.25,225.00 L108.50,225.00 L108.75,225.00 L109.00,225.00 L109.25,225.00 L109.50,225.00 L109.75,225.00 L110.00,225.00 L110.25,225.00 L110.50,225.00 L110.75,225.00 L111.00,225.00 L111.25,225.00 L111.50,225.00 L111.75,225.00 L112.00,225.00 L112.25,225.00 L112.50,225.00 L112.75,225.00 L113.00,225.00 L113.25,225.00 L113.50,225.00 L113.75,225.00 L114.00,225.00 L114.25,225.00 L114.50,225.00 L114.75,225.00 L115.00,225.00 L115.25,225.00 L115.50,225.00 L115.75,225.00 L116.00,225.00 L116.25,225.00 L116.50,225.00 L116.75,225.00 L118.75,225.00 L120.75,225.00 L122.75,225.00 L124.75,225.00 L126.75,225.00 L128.75,225.00 L130.75,225.00 L132.75,225.00 L134.75,225.00 L136.75,225.00 L138.75,225.00 L140.75,225.00 L142.75,225.00 L144.75,225.00 L146.75,225.00 L148.75,225.00 L150.75,225.00 L152.75,225.00 L154.75,225.00 L156.75,225.00 L158.75,225.00 L160.75,225.00 L162.75,225.00 L164.75,225.00 L166.75,225.00 L168.75,225.00 L170.75,225.00 L172.75,225.00 L174.75,225.00 L176.75,225.00 L178.75,225.00 L180.75,225.00 L182.75,225.00 L184.75,225.00 L186.75,225.00 L188.75,225.00 L190.75,225.00 L192.75,225.00 L194.75,225.00 L196.75,225.00 L198.75,225.00 L200.75,225.00 L202.75,225.00 L204.75,225.00 L206.75,225.00 L208.75,225.00 L210.75,225.00 L212.75,225.00 L214.75,225.00 L216.75,225.00 L218.75,225.00 L220.75,225.00 L222.75,225.00 L224.75,225.00 L226.75,225.00 L228.75,225.00 L230.75,225.00 L232.75,225.00 L234.75,225.00 L236.75,225.00" stroke="#62348C"/></g>
<g fill="none" stroke-width="1.40" stroke-linejoin="round" stroke-linecap="round" clip-path="url(#cb)"><path d="M296.00,225.15 C301.33,225.15 321.23,225.26 328.00,225.15 C334.77,225.04 334.42,225.11 336.60,224.50 C338.78,223.89 339.58,223.02 341.10,221.50 C342.62,219.98 344.43,217.93 345.70,215.40 C346.97,212.87 347.93,209.35 348.70,206.30 C349.47,203.25 349.78,200.15 350.30,197.10 C350.82,194.05 351.42,191.18 351.80,188.00 C352.18,184.82 352.27,181.12 352.60,178.00 C352.93,174.88 353.30,172.77 353.80,169.30 C354.30,165.83 354.92,161.25 355.60,157.20 C356.28,153.15 357.12,149.15 357.90,145.00 C358.68,140.85 359.40,136.13 360.30,132.30 C361.20,128.47 362.53,124.72 363.30,122.00 C364.07,119.28 364.43,118.17 364.90,116.00 C365.37,113.83 365.67,111.33 366.10,109.00 C366.53,106.67 367.05,104.50 367.50,102.00 C367.95,99.50 368.35,96.83 368.80,94.00 C369.25,91.17 369.78,88.33 370.20,85.00 C370.62,81.67 370.85,78.17 371.30,74.00 C371.75,69.83 372.52,63.00 372.90,60.00 C373.28,57.00 373.22,57.63 373.60,56.00 C373.98,54.37 374.38,52.22 375.20,50.20 C376.02,48.18 377.43,43.90 378.50,43.90 C379.57,43.90 380.77,47.85 381.60,50.20 C382.43,52.55 382.87,55.23 383.50,58.00 C384.13,60.77 384.80,64.00 385.40,66.80 C386.00,69.60 386.53,72.13 387.10,74.80 C387.67,77.47 388.23,80.27 388.80,82.80 C389.37,85.33 389.90,87.13 390.50,90.00 C391.10,92.87 391.72,97.00 392.40,100.00 C393.08,103.00 393.83,105.33 394.60,108.00 C395.37,110.67 396.13,113.17 397.00,116.00 C397.87,118.83 398.72,121.83 399.80,125.00 C400.88,128.17 402.28,131.67 403.50,135.00 C404.72,138.33 406.03,142.20 407.10,145.00 C408.17,147.80 408.95,149.33 409.90,151.80 C410.85,154.27 411.88,157.13 412.80,159.80 C413.72,162.47 414.69,165.27 415.44,167.80 C416.20,170.33 416.71,172.80 417.33,175.00 C417.96,177.20 418.57,178.83 419.19,181.00 C419.82,183.17 420.43,186.00 421.10,188.00 C421.77,190.00 422.51,191.42 423.21,193.00 C423.91,194.58 424.24,195.28 425.30,197.50 C426.36,199.72 428.00,203.32 429.60,206.30 C431.20,209.28 433.25,212.62 434.90,215.40 C436.55,218.18 438.30,221.47 439.50,223.00 C440.70,224.53 441.05,224.24 442.10,224.60 C443.15,224.96 438.67,225.06 445.80,225.15 C452.93,225.24 478.38,225.15 484.90,225.15" stroke="#A81426"/><path d="M296.00,225.15 C302.17,225.15 325.60,225.26 333.00,225.15 C340.40,225.04 338.53,224.99 340.40,224.50 C342.27,224.01 342.82,223.72 344.20,222.20 C345.58,220.68 347.43,218.05 348.70,215.40 C349.97,212.75 351.03,209.35 351.80,206.30 C352.57,203.25 352.80,200.15 353.30,197.10 C353.80,194.05 354.47,191.18 354.80,188.00 C355.13,184.82 355.03,181.12 355.30,178.00 C355.57,174.88 355.88,172.77 356.40,169.30 C356.92,165.83 357.63,161.25 358.40,157.20 C359.17,153.15 360.43,147.53 361.00,145.00 C361.57,142.47 361.42,144.00 361.80,142.00 C362.18,140.00 362.83,135.50 363.30,133.00 C363.77,130.50 364.12,128.75 364.60,127.00 C365.08,125.25 365.67,124.00 366.20,122.50 C366.73,121.00 367.25,119.58 367.80,118.00 C368.35,116.42 368.97,114.58 369.50,113.00 C370.03,111.42 370.52,109.83 371.00,108.50 C371.48,107.17 372.00,106.45 372.40,105.00 C372.80,103.55 372.95,102.00 373.40,99.80 C373.85,97.60 374.53,94.27 375.10,91.80 C375.67,89.33 376.38,86.88 376.80,85.00 C377.22,83.12 377.18,82.00 377.60,80.50 C378.02,79.00 378.57,77.20 379.30,76.00 C380.03,74.80 381.08,73.30 382.00,73.30 C382.92,73.30 383.95,74.60 384.80,76.00 C385.65,77.40 386.43,80.00 387.10,81.70 C387.77,83.40 388.22,84.73 388.80,86.20 C389.38,87.67 389.95,88.20 390.60,90.50 C391.25,92.80 391.98,97.08 392.70,100.00 C393.42,102.92 394.13,105.33 394.90,108.00 C395.67,110.67 396.43,113.17 397.30,116.00 C398.17,118.83 399.07,121.83 400.10,125.00 C401.13,128.17 402.33,131.67 403.50,135.00 C404.67,138.33 406.03,142.20 407.10,145.00 C408.17,147.80 408.95,149.33 409.90,151.80 C410.85,154.27 411.88,157.13 412.80,159.80 C413.72,162.47 414.69,165.27 415.44,167.80 C416.20,170.33 416.71,172.80 417.33,175.00 C417.96,177.20 418.57,178.83 419.19,181.00 C419.82,183.17 420.43,186.00 421.10,188.00 C421.77,190.00 422.51,191.42 423.21,193.00 C423.91,194.58 424.24,195.28 425.30,197.50 C426.36,199.72 428.00,203.32 429.60,206.30 C431.20,209.28 433.25,212.62 434.90,215.40 C436.55,218.18 438.30,221.47 439.50,223.00 C440.70,224.53 441.05,224.24 442.10,224.60 C443.15,224.96 438.67,225.06 445.80,225.15 C452.93,225.24 478.38,225.15 484.90,225.15" stroke="#CC1A2C"/><path d="M296.00,225.15 C303.00,225.15 329.72,225.26 338.00,225.15 C346.28,225.04 343.92,224.99 345.70,224.50 C347.48,224.01 347.43,223.72 348.70,222.20 C349.97,220.68 352.03,218.05 353.30,215.40 C354.57,212.75 355.42,209.35 356.30,206.30 C357.18,203.25 357.97,200.15 358.60,197.10 C359.23,194.05 359.65,191.18 360.10,188.00 C360.55,184.82 360.90,181.12 361.30,178.00 C361.70,174.88 361.92,172.77 362.50,169.30 C363.08,165.83 364.23,160.25 364.80,157.20 C365.37,154.15 365.52,152.95 365.90,151.00 C366.28,149.05 366.70,147.75 367.10,145.50 C367.50,143.25 367.92,139.87 368.30,137.50 C368.68,135.13 368.93,133.00 369.40,131.30 C369.87,129.60 370.43,128.28 371.10,127.30 C371.77,126.32 372.50,126.05 373.40,125.40 C374.30,124.75 375.60,124.30 376.50,123.40 C377.40,122.50 377.93,121.23 378.80,120.00 C379.67,118.77 380.75,117.07 381.70,116.00 C382.65,114.93 383.85,114.03 384.50,113.60 C385.15,113.17 385.02,113.22 385.60,113.40 C386.18,113.58 387.13,114.02 388.00,114.70 C388.87,115.38 389.95,116.55 390.80,117.50 C391.65,118.45 392.17,119.00 393.10,120.40 C394.03,121.80 395.32,123.87 396.40,125.90 C397.48,127.93 398.63,130.50 399.60,132.60 C400.57,134.70 401.05,136.43 402.20,138.50 C403.35,140.57 405.32,142.78 406.50,145.00 C407.68,147.22 408.35,149.33 409.30,151.80 C410.25,154.27 411.28,157.13 412.20,159.80 C413.12,162.47 414.09,165.27 414.84,167.80 C415.60,170.33 416.11,172.80 416.73,175.00 C417.36,177.20 417.97,178.83 418.59,181.00 C419.22,183.17 419.83,186.00 420.50,188.00 C421.17,190.00 421.91,191.42 422.61,193.00 C423.31,194.58 423.64,195.28 424.70,197.50 C425.76,199.72 427.40,203.32 429.00,206.30 C430.60,209.28 432.65,212.62 434.30,215.40 C435.95,218.18 437.70,221.47 438.90,223.00 C440.10,224.53 440.45,224.24 441.50,224.60 C442.55,224.96 437.97,225.06 445.20,225.15 C452.43,225.24 478.28,225.15 484.90,225.15" stroke="#E8B634"/><path d="M296.00,225.15 C303.83,225.15 334.08,225.26 343.00,225.15 C351.92,225.04 347.78,224.99 349.50,224.50 C351.22,224.01 352.03,223.72 353.30,222.20 C354.57,220.68 355.97,218.05 357.10,215.40 C358.23,212.75 359.22,209.35 360.10,206.30 C360.98,203.25 361.77,200.15 362.40,197.10 C363.03,194.05 363.47,191.18 363.90,188.00 C364.33,184.82 364.60,181.12 365.00,178.00 C365.40,174.88 365.60,172.97 366.30,169.30 C367.00,165.63 368.48,159.20 369.20,156.00 C369.92,152.80 370.18,152.23 370.60,150.10 C371.02,147.97 371.33,145.30 371.70,143.20 C372.07,141.10 372.42,139.02 372.80,137.50 C373.18,135.98 373.42,135.05 374.00,134.10 C374.58,133.15 375.35,132.37 376.30,131.80 C377.25,131.23 378.57,131.07 379.70,130.70 C380.83,130.33 381.97,130.05 383.10,129.60 C384.23,129.15 385.47,128.25 386.50,128.00 C387.53,127.75 388.30,127.93 389.30,128.10 C390.30,128.27 391.47,128.52 392.50,129.00 C393.53,129.48 394.47,130.08 395.50,131.00 C396.53,131.92 397.70,133.23 398.70,134.50 C399.70,135.77 400.62,137.18 401.50,138.60 C402.38,140.02 402.75,140.80 404.00,143.00 C405.25,145.20 407.68,149.00 409.00,151.80 C410.32,154.60 410.94,157.13 411.90,159.80 C412.86,162.47 413.87,165.27 414.76,167.80 C415.64,170.33 416.41,172.80 417.20,175.00 C417.99,177.20 418.73,178.83 419.52,181.00 C420.31,183.17 421.14,186.00 421.96,188.00 C422.78,190.00 423.67,191.42 424.46,193.00 C425.25,194.58 425.61,195.28 426.70,197.50 C427.79,199.72 429.40,203.32 431.00,206.30 C432.60,209.28 434.65,212.62 436.30,215.40 C437.95,218.18 439.70,221.47 440.90,223.00 C442.10,224.53 442.45,224.24 443.50,224.60 C444.55,224.96 440.30,225.06 447.20,225.15 C454.10,225.24 478.62,225.15 484.90,225.15" stroke="#14965A"/><path d="M296.00,225.15 C305.50,225.15 342.15,225.44 353.00,225.15 C363.85,224.86 359.05,224.41 361.10,223.40 C363.15,222.39 364.07,221.23 365.30,219.10 C366.53,216.97 367.62,213.78 368.50,210.60 C369.38,207.42 369.80,203.40 370.60,200.00 C371.40,196.60 372.53,193.37 373.30,190.20 C374.07,187.03 374.57,184.03 375.20,181.00 C375.83,177.97 376.58,174.50 377.10,172.00 C377.62,169.50 377.82,167.97 378.30,166.00 C378.78,164.03 379.33,161.82 380.00,160.20 C380.67,158.58 381.45,157.28 382.30,156.30 C383.15,155.32 384.07,154.78 385.10,154.30 C386.13,153.82 387.35,153.73 388.50,153.40 C389.65,153.07 390.85,152.72 392.00,152.30 C393.15,151.88 394.27,151.28 395.40,150.90 C396.53,150.52 397.87,150.07 398.80,150.00 C399.73,149.93 400.20,150.00 401.00,150.50 C401.80,151.00 402.77,152.02 403.60,153.00 C404.43,153.98 405.22,155.07 406.00,156.40 C406.78,157.73 407.55,159.48 408.30,161.00 C409.05,162.52 409.75,163.98 410.50,165.50 C411.25,167.02 412.08,168.58 412.80,170.10 C413.52,171.62 413.92,172.78 414.80,174.60 C415.68,176.42 417.28,178.77 418.11,181.00 C418.93,183.23 419.16,186.00 419.75,188.00 C420.35,190.00 421.03,191.42 421.69,193.00 C422.34,194.58 422.65,195.28 423.70,197.50 C424.75,199.72 426.40,203.32 428.00,206.30 C429.60,209.28 431.65,212.62 433.30,215.40 C434.95,218.18 436.70,221.47 437.90,223.00 C439.10,224.53 439.45,224.24 440.50,224.60 C441.55,224.96 436.80,225.06 444.20,225.15 C451.60,225.24 478.12,225.15 484.90,225.15" stroke="#1EA0D6"/><path d="M296.00,225.15 C306.33,225.15 346.27,225.44 358.00,225.15 C369.73,224.86 364.12,224.58 366.40,223.40 C368.68,222.22 370.28,220.23 371.70,218.10 C373.12,215.97 373.97,213.45 374.90,210.60 C375.83,207.75 376.30,204.40 377.30,201.00 C378.30,197.60 379.95,194.03 380.90,190.20 C381.85,186.37 382.30,181.03 383.00,178.00 C383.70,174.97 384.47,173.63 385.10,172.00 C385.73,170.37 386.13,169.20 386.80,168.20 C387.47,167.20 388.23,166.60 389.10,166.00 C389.97,165.40 390.95,164.95 392.00,164.60 C393.05,164.25 394.33,163.97 395.40,163.90 C396.47,163.83 397.42,164.00 398.40,164.20 C399.38,164.40 400.38,164.58 401.30,165.10 C402.22,165.62 403.02,166.37 403.90,167.30 C404.78,168.23 405.78,169.42 406.60,170.70 C407.42,171.98 407.62,172.93 408.80,175.00 C409.98,177.07 412.25,180.60 413.70,183.10 C415.15,185.60 416.25,187.60 417.50,190.00 C418.75,192.40 419.95,195.00 421.20,197.50 C422.45,200.00 423.65,202.53 425.00,205.00 C426.35,207.47 427.82,209.82 429.30,212.30 C430.78,214.78 432.53,217.97 433.90,219.90 C435.27,221.83 436.32,223.03 437.50,223.90 C438.68,224.78 433.10,224.94 441.00,225.15 C448.90,225.36 477.58,225.15 484.90,225.15" stroke="#1E62A8"/><path d="M296.00,225.15 C307.67,225.15 353.73,225.23 366.00,225.15 C378.27,225.07 368.30,224.96 369.60,224.70 C370.90,224.44 372.52,224.12 373.80,223.60 C375.08,223.08 376.08,222.70 377.30,221.60 C378.52,220.50 380.08,218.78 381.10,217.00 C382.12,215.22 382.63,213.18 383.40,210.90 C384.17,208.62 384.93,205.83 385.70,203.30 C386.47,200.77 387.25,197.72 388.00,195.70 C388.75,193.68 389.43,192.35 390.20,191.20 C390.97,190.05 391.48,189.47 392.60,188.80 C393.72,188.13 395.67,187.45 396.90,187.20 C398.13,186.95 398.98,186.80 400.00,187.30 C401.02,187.80 401.70,188.95 403.00,190.20 C404.30,191.45 406.20,192.77 407.80,194.80 C409.40,196.83 411.05,199.85 412.60,202.40 C414.15,204.95 415.58,207.82 417.10,210.10 C418.62,212.38 420.17,214.20 421.70,216.10 C423.23,218.00 424.92,220.13 426.30,221.50 C427.68,222.87 428.72,223.69 430.00,224.30 C431.28,224.91 424.85,225.01 434.00,225.15 C443.15,225.29 476.42,225.15 484.90,225.15" stroke="#18204C"/><path d="M296.00,225.15 C309.33,225.15 362.08,225.24 376.00,225.15 C389.92,225.06 378.42,224.93 379.50,224.60 C380.58,224.27 381.32,223.87 382.50,223.20 C383.68,222.53 385.27,221.52 386.60,220.60 C387.93,219.68 389.13,218.57 390.50,217.70 C391.87,216.83 393.38,215.93 394.80,215.40 C396.22,214.87 397.55,214.50 399.00,214.50 C400.45,214.50 402.10,214.92 403.50,215.40 C404.90,215.88 406.02,216.52 407.40,217.40 C408.78,218.28 410.43,219.60 411.80,220.70 C413.17,221.80 414.48,223.26 415.60,224.00 C416.72,224.74 407.77,224.96 418.50,225.15 C429.23,225.34 468.93,225.15 480.00,225.15 C491.07,225.15 484.08,225.15 484.90,225.15" stroke="#62348C"/></g>
<g fill="none" stroke-width="1.40" stroke-linejoin="round" stroke-linecap="round" clip-path="url(#cc)"><path d="M538.30,221.00 C538.80,220.45 540.27,219.62 541.30,217.70 C542.33,215.78 543.42,212.77 544.50,209.50 C545.58,206.23 546.85,202.18 547.80,198.10 C548.75,194.02 549.45,189.28 550.20,185.00 C550.95,180.72 551.65,176.53 552.30,172.40 C552.95,168.27 553.52,164.18 554.10,160.20 C554.68,156.22 555.17,152.82 555.80,148.50 C556.43,144.18 557.30,138.68 557.90,134.30 C558.50,129.92 558.85,125.92 559.40,122.20 C559.95,118.48 560.67,115.65 561.20,112.00 C561.73,108.35 562.15,104.27 562.60,100.30 C563.05,96.33 563.52,92.25 563.90,88.20 C564.28,84.15 564.60,79.63 564.90,76.00 C565.20,72.37 565.32,69.77 565.70,66.40 C566.08,63.03 566.57,59.10 567.20,55.80 C567.83,52.50 568.67,48.93 569.50,46.60 C570.33,44.27 571.18,41.80 572.20,41.80 C573.22,41.80 574.70,44.27 575.60,46.60 C576.50,48.93 577.02,52.50 577.60,55.80 C578.18,59.10 578.68,63.03 579.10,66.40 C579.52,69.77 579.67,72.88 580.10,76.00 C580.53,79.12 581.18,81.80 581.70,85.10 C582.22,88.40 582.67,92.48 583.20,95.80 C583.73,99.12 584.33,102.30 584.90,105.00 C585.47,107.70 585.85,110.35 586.60,112.00 C587.35,113.65 588.28,114.67 589.40,114.90 C590.52,115.13 592.15,113.28 593.30,113.40 C594.45,113.52 595.42,114.22 596.30,115.60 C597.18,116.98 597.83,119.42 598.60,121.70 C599.37,123.98 600.15,127.02 600.90,129.30 C601.65,131.58 602.35,133.45 603.10,135.40 C603.85,137.35 604.57,139.47 605.40,141.00 C606.23,142.53 607.13,143.25 608.10,144.60 C609.07,145.95 610.05,147.78 611.20,149.10 C612.35,150.42 613.80,151.43 615.00,152.50 C616.20,153.57 617.27,154.67 618.40,155.50 C619.53,156.33 620.72,156.53 621.80,157.50 C622.88,158.47 623.75,159.65 624.90,161.30 C626.05,162.95 627.43,165.37 628.70,167.40 C629.97,169.43 631.23,171.40 632.50,173.50 C633.77,175.60 635.02,177.65 636.30,180.00 C637.58,182.35 638.80,185.07 640.20,187.60 C641.60,190.13 643.13,192.73 644.70,195.20 C646.27,197.67 647.95,200.23 649.60,202.40 C651.25,204.57 652.75,206.23 654.60,208.20 C656.45,210.17 658.47,212.28 660.70,214.20 C662.93,216.12 665.57,218.17 668.00,219.70 C670.43,221.23 673.07,222.58 675.30,223.40 C677.53,224.22 678.95,224.25 681.40,224.60 C683.85,224.95 688.57,225.35 690.00,225.50" stroke="#A81426"/><path d="M541.00,225.60 C541.50,225.55 543.08,225.63 544.00,225.30 C544.92,224.97 545.67,224.40 546.50,223.60 C547.33,222.80 548.17,222.02 549.00,220.50 C549.83,218.98 550.78,216.75 551.50,214.50 C552.22,212.25 552.72,209.67 553.30,207.00 C553.88,204.33 554.40,202.00 555.00,198.50 C555.60,195.00 556.37,190.35 556.90,186.00 C557.43,181.65 557.78,176.70 558.20,172.40 C558.62,168.10 558.95,164.77 559.40,160.20 C559.85,155.63 560.48,149.32 560.90,145.00 C561.32,140.68 561.55,138.10 561.90,134.30 C562.25,130.50 562.70,125.92 563.00,122.20 C563.30,118.48 563.47,115.65 563.70,112.00 C563.93,108.35 564.12,104.27 564.40,100.30 C564.68,96.33 565.12,92.25 565.40,88.20 C565.68,84.15 565.80,79.38 566.10,76.00 C566.40,72.62 566.63,70.20 567.20,67.90 C567.77,65.60 568.62,62.20 569.50,62.20 C570.38,62.20 571.48,65.60 572.50,67.90 C573.52,70.20 574.58,73.13 575.60,76.00 C576.62,78.87 577.72,81.80 578.60,85.10 C579.48,88.40 580.07,92.40 580.90,95.80 C581.73,99.20 582.75,102.70 583.60,105.50 C584.45,108.30 585.35,109.63 586.00,112.60 C586.65,115.57 587.02,119.72 587.50,123.30 C587.98,126.88 588.42,130.77 588.90,134.10 C589.38,137.43 589.85,140.72 590.40,143.30 C590.95,145.88 591.53,147.37 592.20,149.60 C592.87,151.83 593.52,154.25 594.40,156.70 C595.28,159.15 596.22,162.13 597.50,164.30 C598.78,166.47 600.45,168.30 602.10,169.70 C603.75,171.10 605.65,171.62 607.40,172.70 C609.15,173.78 610.72,174.70 612.60,176.20 C614.48,177.70 616.92,179.77 618.70,181.70 C620.48,183.63 621.78,185.85 623.30,187.80 C624.82,189.75 626.27,191.37 627.80,193.40 C629.33,195.43 630.95,197.70 632.50,200.00 C634.05,202.30 635.32,204.95 637.10,207.20 C638.88,209.45 641.13,211.65 643.20,213.50 C645.27,215.35 647.00,216.97 649.50,218.30 C652.00,219.63 655.32,220.55 658.20,221.50 C661.08,222.45 664.00,223.35 666.80,224.00 C669.60,224.65 671.13,225.12 675.00,225.40 C678.87,225.68 687.50,225.65 690.00,225.70" stroke="#CC1A2C"/><path d="M542.00,225.60 C542.50,225.55 544.08,225.67 545.00,225.30 C545.92,224.93 546.67,224.28 547.50,223.40 C548.33,222.52 549.17,221.57 550.00,220.00 C550.83,218.43 551.78,216.25 552.50,214.00 C553.22,211.75 553.72,209.17 554.30,206.50 C554.88,203.83 555.38,201.58 556.00,198.00 C556.62,194.42 557.48,189.27 558.00,185.00 C558.52,180.73 558.72,176.53 559.10,172.40 C559.48,168.27 559.85,164.77 560.30,160.20 C560.75,155.63 561.40,149.32 561.80,145.00 C562.20,140.68 562.37,138.10 562.70,134.30 C563.03,130.50 563.52,125.75 563.80,122.20 C564.08,118.65 564.22,115.12 564.40,113.00 C564.58,110.88 564.57,111.62 564.90,109.50 C565.23,107.38 565.72,102.78 566.40,100.30 C567.08,97.82 568.10,95.10 569.00,94.60 C569.90,94.10 570.97,95.83 571.80,97.30 C572.63,98.77 573.33,101.37 574.00,103.40 C574.67,105.43 575.10,107.07 575.80,109.50 C576.50,111.93 577.28,115.67 578.20,118.00 C579.12,120.33 580.32,122.37 581.30,123.50 C582.28,124.63 583.00,125.35 584.10,124.80 C585.20,124.25 586.75,121.27 587.90,120.20 C589.05,119.13 589.98,118.40 591.00,118.40 C592.02,118.40 593.12,118.88 594.00,120.20 C594.88,121.52 595.53,124.02 596.30,126.30 C597.07,128.58 597.83,131.23 598.60,133.90 C599.37,136.57 600.20,140.02 600.90,142.30 C601.60,144.58 602.10,145.45 602.80,147.60 C603.50,149.75 604.22,152.92 605.10,155.20 C605.98,157.48 606.95,159.45 608.10,161.30 C609.25,163.15 610.77,165.05 612.00,166.30 C613.23,167.55 614.37,168.05 615.50,168.80 C616.63,169.55 617.75,169.77 618.80,170.80 C619.85,171.83 620.95,173.53 621.80,175.00 C622.65,176.47 623.17,178.08 623.90,179.60 C624.63,181.12 625.42,182.45 626.20,184.10 C626.98,185.75 627.58,187.47 628.60,189.50 C629.62,191.53 631.23,194.40 632.30,196.30 C633.37,198.20 633.78,198.98 635.00,200.90 C636.22,202.82 637.98,205.70 639.60,207.80 C641.22,209.90 643.08,211.80 644.70,213.50 C646.32,215.20 647.65,216.35 649.30,218.00 C650.95,219.65 652.82,222.18 654.60,223.40 C656.38,224.62 659.10,224.98 660.00,225.30" stroke="#E8B634"/><path d="M542.50,225.60 C543.00,225.55 544.53,225.70 545.50,225.30 C546.47,224.90 547.38,224.17 548.30,223.20 C549.22,222.23 550.13,221.12 551.00,219.50 C551.87,217.88 552.78,215.75 553.50,213.50 C554.22,211.25 554.72,208.58 555.30,206.00 C555.88,203.42 556.30,201.50 557.00,198.00 C557.70,194.50 558.58,189.27 559.50,185.00 C560.42,180.73 561.75,176.53 562.50,172.40 C563.25,168.27 563.50,163.93 564.00,160.20 C564.50,156.47 565.03,152.70 565.50,150.00 C565.97,147.30 566.18,146.00 566.80,144.00 C567.42,142.00 568.28,139.35 569.20,138.00 C570.12,136.65 571.28,135.90 572.30,135.90 C573.32,135.90 574.30,136.95 575.30,138.00 C576.30,139.05 577.38,141.27 578.30,142.20 C579.22,143.13 579.87,143.88 580.80,143.60 C581.73,143.32 582.77,141.93 583.90,140.50 C585.03,139.07 586.40,136.42 587.60,135.00 C588.80,133.58 590.12,132.18 591.10,132.00 C592.08,131.82 592.75,132.65 593.50,133.90 C594.25,135.15 594.97,137.48 595.60,139.50 C596.23,141.52 596.60,143.13 597.30,146.00 C598.00,148.87 598.88,153.65 599.80,156.70 C600.72,159.75 601.67,162.02 602.80,164.30 C603.93,166.58 605.22,168.73 606.60,170.40 C607.98,172.07 609.33,172.67 611.10,174.30 C612.87,175.93 615.43,177.98 617.20,180.20 C618.97,182.42 620.18,184.97 621.70,187.60 C623.22,190.23 624.83,193.52 626.30,196.00 C627.77,198.48 628.88,200.20 630.50,202.50 C632.12,204.80 634.37,207.63 636.00,209.80 C637.63,211.97 638.97,213.77 640.30,215.50 C641.63,217.23 642.63,218.85 644.00,220.20 C645.37,221.55 646.67,222.73 648.50,223.60 C650.33,224.47 653.92,225.10 655.00,225.40" stroke="#14965A"/><path d="M543.00,225.60 C543.50,225.55 545.00,225.70 546.00,225.30 C547.00,224.90 548.00,224.20 549.00,223.20 C550.00,222.20 551.05,221.00 552.00,219.30 C552.95,217.60 553.95,215.22 554.70,213.00 C555.45,210.78 555.90,208.42 556.50,206.00 C557.10,203.58 557.43,202.00 558.30,198.50 C559.17,195.00 560.50,189.10 561.70,185.00 C562.90,180.90 564.48,177.02 565.50,173.90 C566.52,170.78 566.97,168.15 567.80,166.30 C568.63,164.45 569.55,163.48 570.50,162.80 C571.45,162.12 572.55,162.08 573.50,162.20 C574.45,162.32 575.27,163.28 576.20,163.50 C577.13,163.72 578.05,164.00 579.10,163.50 C580.15,163.00 581.23,162.12 582.50,160.50 C583.77,158.88 585.43,155.30 586.70,153.80 C587.97,152.30 589.02,151.50 590.10,151.50 C591.18,151.50 592.25,152.52 593.20,153.80 C594.15,155.08 594.95,156.93 595.80,159.20 C596.65,161.47 597.38,165.02 598.30,167.40 C599.22,169.78 600.32,171.42 601.30,173.50 C602.28,175.58 603.10,178.00 604.20,179.90 C605.30,181.80 606.52,183.63 607.90,184.90 C609.28,186.17 610.97,186.37 612.50,187.50 C614.03,188.63 615.70,190.10 617.10,191.70 C618.50,193.30 619.63,195.25 620.90,197.10 C622.17,198.95 623.43,200.85 624.70,202.80 C625.97,204.75 627.32,207.02 628.50,208.80 C629.68,210.58 630.68,212.22 631.80,213.50 C632.92,214.78 634.13,215.47 635.20,216.50 C636.27,217.53 636.93,218.60 638.20,219.70 C639.47,220.80 641.17,222.17 642.80,223.10 C644.43,224.03 647.13,224.93 648.00,225.30" stroke="#1EA0D6"/><path d="M543.50,225.60 C544.00,225.55 545.45,225.70 546.50,225.30 C547.55,224.90 548.72,224.20 549.80,223.20 C550.88,222.20 551.92,221.08 553.00,219.30 C554.08,217.52 555.38,214.88 556.30,212.50 C557.22,210.12 557.80,207.33 558.50,205.00 C559.20,202.67 559.67,201.00 560.50,198.50 C561.33,196.00 562.53,192.25 563.50,190.00 C564.47,187.75 565.33,186.28 566.30,185.00 C567.27,183.72 568.28,182.98 569.30,182.30 C570.32,181.62 571.38,181.03 572.40,180.90 C573.42,180.77 574.27,181.60 575.40,181.50 C576.53,181.40 577.87,181.22 579.20,180.30 C580.53,179.38 582.03,177.08 583.40,176.00 C584.77,174.92 586.20,173.85 587.40,173.80 C588.60,173.75 589.68,174.67 590.60,175.70 C591.52,176.73 592.17,178.87 592.90,180.00 C593.63,181.13 594.15,181.18 595.00,182.50 C595.85,183.82 596.87,185.85 598.00,187.90 C599.13,189.95 600.53,193.02 601.80,194.80 C603.07,196.58 604.20,197.72 605.60,198.60 C607.00,199.48 608.90,199.62 610.20,200.10 C611.50,200.58 612.47,200.93 613.40,201.50 C614.33,202.07 614.92,202.67 615.80,203.50 C616.68,204.33 617.62,205.25 618.70,206.50 C619.78,207.75 621.13,209.57 622.30,211.00 C623.47,212.43 624.57,213.85 625.70,215.10 C626.83,216.35 627.97,217.45 629.10,218.50 C630.23,219.55 631.27,220.55 632.50,221.40 C633.73,222.25 634.92,222.95 636.50,223.60 C638.08,224.25 641.08,225.02 642.00,225.30" stroke="#1E62A8"/><path d="M542.00,225.60 C542.92,225.43 546.03,225.05 547.50,224.60 C548.97,224.15 549.37,223.90 550.80,222.90 C552.23,221.90 554.42,220.47 556.10,218.60 C557.78,216.73 559.33,213.67 560.90,211.70 C562.47,209.73 564.07,208.05 565.50,206.80 C566.93,205.55 568.13,204.87 569.50,204.20 C570.87,203.53 572.23,203.10 573.70,202.80 C575.17,202.50 576.75,202.37 578.30,202.40 C579.85,202.43 581.50,202.65 583.00,203.00 C584.50,203.35 585.97,203.78 587.30,204.50 C588.63,205.22 589.68,206.18 591.00,207.30 C592.32,208.42 593.77,209.98 595.20,211.20 C596.63,212.42 598.02,213.75 599.60,214.60 C601.18,215.45 602.88,215.82 604.70,216.30 C606.52,216.78 608.55,216.98 610.50,217.50 C612.45,218.02 614.73,218.82 616.40,219.40 C618.07,219.98 618.95,220.48 620.50,221.00 C622.05,221.52 624.08,222.00 625.70,222.50 C627.32,223.00 628.48,223.53 630.20,224.00 C631.92,224.47 635.03,225.08 636.00,225.30" stroke="#18204C"/><path d="M541.00,225.60 C541.92,225.45 544.52,225.23 546.50,224.70 C548.48,224.17 550.77,223.23 552.90,222.40 C555.03,221.57 557.12,220.68 559.30,219.70 C561.48,218.72 564.22,217.23 566.00,216.50 C567.78,215.77 568.72,215.58 570.00,215.30 C571.28,215.02 572.32,214.93 573.70,214.80 C575.08,214.67 576.63,214.42 578.30,214.50 C579.97,214.58 582.07,214.80 583.70,215.30 C585.33,215.80 586.53,216.78 588.10,217.50 C589.67,218.22 591.30,219.13 593.10,219.60 C594.90,220.07 596.97,220.05 598.90,220.30 C600.83,220.55 602.77,220.82 604.70,221.10 C606.63,221.38 608.55,221.72 610.50,222.00 C612.45,222.28 614.63,222.62 616.40,222.80 C618.17,222.98 619.55,222.90 621.10,223.10 C622.65,223.30 623.88,223.63 625.70,224.00 C627.52,224.37 630.95,225.08 632.00,225.30" stroke="#62348C"/></g>
<text x="40.30" y="10.30" font-size="11.00" text-anchor="end" fill="#000" stroke="#000" stroke-width="0.30">1.2</text>
<text x="40.30" y="64.87" font-size="11.00" text-anchor="end" fill="#000" stroke="#000" stroke-width="0.30">0.9</text>
<text x="40.30" y="119.45" font-size="11.00" text-anchor="end" fill="#000" stroke="#000" stroke-width="0.30">0.6</text>
<text x="40.30" y="174.03" font-size="11.00" text-anchor="end" fill="#000" stroke="#000" stroke-width="0.30">0.3</text>
<text x="40.30" y="228.60" font-size="11.00" text-anchor="end" fill="#000" stroke="#000" stroke-width="0.30">0.0</text>
<text x="284.90" y="10.55" font-size="11.00" text-anchor="end" fill="#000" stroke="#000" stroke-width="0.30">1.2</text>
<text x="284.90" y="65.10" font-size="11.00" text-anchor="end" fill="#000" stroke="#000" stroke-width="0.30">0.9</text>
<text x="284.90" y="119.65" font-size="11.00" text-anchor="end" fill="#000" stroke="#000" stroke-width="0.30">0.6</text>
<text x="284.90" y="174.20" font-size="11.00" text-anchor="end" fill="#000" stroke="#000" stroke-width="0.30">0.3</text>
<text x="284.90" y="228.75" font-size="11.00" text-anchor="end" fill="#000" stroke="#000" stroke-width="0.30">0.0</text>
<text x="527.40" y="8.90" font-size="11.00" text-anchor="end" fill="#000" stroke="#000" stroke-width="0.30">1.2</text>
<text x="527.40" y="64.00" font-size="11.00" text-anchor="end" fill="#000" stroke="#000" stroke-width="0.30">0.9</text>
<text x="527.40" y="119.10" font-size="11.00" text-anchor="end" fill="#000" stroke="#000" stroke-width="0.30">0.6</text>
<text x="527.40" y="174.20" font-size="11.00" text-anchor="end" fill="#000" stroke="#000" stroke-width="0.30">0.3</text>
<text x="527.40" y="229.30" font-size="11.00" text-anchor="end" fill="#000" stroke="#000" stroke-width="0.30">0.0</text>
<text x="51.00" y="243.60" font-size="11.40" text-anchor="middle" fill="#000" stroke="#000" stroke-width="0.30">2150</text>
<text x="97.50" y="243.60" font-size="11.40" text-anchor="middle" fill="#000" stroke="#000" stroke-width="0.30">2100</text>
<text x="144.00" y="243.60" font-size="11.40" text-anchor="middle" fill="#000" stroke="#000" stroke-width="0.30">2050</text>
<text x="190.50" y="243.60" font-size="11.40" text-anchor="middle" fill="#000" stroke="#000" stroke-width="0.30">2000</text>
<text x="237.00" y="243.60" font-size="11.40" text-anchor="middle" fill="#000" stroke="#000" stroke-width="0.30">1950</text>
<text x="296.00" y="243.60" font-size="11.40" text-anchor="middle" fill="#000" stroke="#000" stroke-width="0.30">2150</text>
<text x="343.23" y="243.60" font-size="11.40" text-anchor="middle" fill="#000" stroke="#000" stroke-width="0.30">2100</text>
<text x="390.45" y="243.60" font-size="11.40" text-anchor="middle" fill="#000" stroke="#000" stroke-width="0.30">2050</text>
<text x="437.67" y="243.60" font-size="11.40" text-anchor="middle" fill="#000" stroke="#000" stroke-width="0.30">2000</text>
<text x="484.90" y="243.60" font-size="11.40" text-anchor="middle" fill="#000" stroke="#000" stroke-width="0.30">1950</text>
<text x="538.30" y="243.60" font-size="11.40" text-anchor="middle" fill="#000" stroke="#000" stroke-width="0.30">2150</text>
<text x="584.79" y="243.60" font-size="11.40" text-anchor="middle" fill="#000" stroke="#000" stroke-width="0.30">2100</text>
<text x="631.27" y="243.60" font-size="11.40" text-anchor="middle" fill="#000" stroke="#000" stroke-width="0.30">2050</text>
<text x="677.76" y="243.60" font-size="11.40" text-anchor="middle" fill="#000" stroke="#000" stroke-width="0.30">2000</text>
<text x="724.25" y="243.60" font-size="11.40" text-anchor="middle" fill="#000" stroke="#000" stroke-width="0.30">1950</text>
<text x="78.00" y="258.7" font-size="13.5" stroke="#000" stroke-width="0.3">Wavenumber (cm<tspan font-size="8.5" dy="-5.5">-1</tspan><tspan dy="5.5">)</tspan></text>
<text x="340.40" y="258.7" font-size="13.5" stroke="#000" stroke-width="0.3">Wavenumber (cm<tspan font-size="8.5" dy="-5.5">-1</tspan><tspan dy="5.5">)</tspan></text>
<text x="582.10" y="258.7" font-size="13.5" stroke="#000" stroke-width="0.3">Wavenumber (cm<tspan font-size="8.5" dy="-5.5">-1</tspan><tspan dy="5.5">)</tspan></text>
<text x="0" y="0" font-size="13" stroke="#000" stroke-width="0.3" text-anchor="middle" transform="translate(11.1,129.7) rotate(-90)">Normalized Absorbance</text>
<text x="61.00" y="25.00" font-size="16.00" text-anchor="start" fill="#000" stroke="#000" stroke-width="0.30">a</text>
<text x="304.80" y="26.50" font-size="16.00" text-anchor="start" fill="#000" stroke="#000" stroke-width="0.30">b</text>
<text x="546.00" y="23.30" font-size="16.00" text-anchor="start" fill="#000" stroke="#000" stroke-width="0.30">c</text>
<text x="229.40" y="22.80" font-size="13.00" text-anchor="end" fill="#A8101E" stroke="#A8101E" stroke-width="0.30">-25 °C</text>
<text x="229.40" y="38.94" font-size="13.00" text-anchor="end" fill="#D0121E" stroke="#D0121E" stroke-width="0.30">-15 °C</text>
<text x="229.40" y="55.08" font-size="13.00" text-anchor="end" fill="#EAB830" stroke="#EAB830" stroke-width="0.30">-10 °C</text>
<text x="229.40" y="71.22" font-size="13.00" text-anchor="end" fill="#109850" stroke="#109850" stroke-width="0.30">-8 °C</text>
<text x="229.40" y="87.36" font-size="13.00" text-anchor="end" fill="#1CA0D8" stroke="#1CA0D8" stroke-width="0.30">-5 °C</text>
<text x="229.40" y="103.50" font-size="13.00" text-anchor="end" fill="#1C64AA" stroke="#1C64AA" stroke-width="0.30">-3 °C</text>
<text x="229.40" y="119.64" font-size="13.00" text-anchor="end" fill="#16204E" stroke="#16204E" stroke-width="0.30">-2 °C</text>
<text x="229.40" y="135.78" font-size="13.00" text-anchor="end" fill="#6C3498" stroke="#6C3498" stroke-width="0.30">5 °C</text>
<text x="476.80" y="22.80" font-size="13.00" text-anchor="end" fill="#A8101E" stroke="#A8101E" stroke-width="0.30">25 °C</text>
<text x="476.80" y="38.94" font-size="13.00" text-anchor="end" fill="#D0121E" stroke="#D0121E" stroke-width="0.30">50 °C</text>
<text x="476.80" y="55.08" font-size="13.00" text-anchor="end" fill="#EAB830" stroke="#EAB830" stroke-width="0.30">100 °C</text>
<text x="476.80" y="71.22" font-size="13.00" text-anchor="end" fill="#109850" stroke="#109850" stroke-width="0.30">150 °C</text>
<text x="476.80" y="87.36" font-size="13.00" text-anchor="end" fill="#1CA0D8" stroke="#1CA0D8" stroke-width="0.30">200 °C</text>
<text x="476.80" y="103.50" font-size="13.00" text-anchor="end" fill="#1C64AA" stroke="#1C64AA" stroke-width="0.30">250 °C</text>
<text x="476.80" y="119.64" font-size="13.00" text-anchor="end" fill="#16204E" stroke="#16204E" stroke-width="0.30">275 °C</text>
<text x="476.80" y="135.78" font-size="13.00" text-anchor="end" fill="#6C3498" stroke="#6C3498" stroke-width="0.30">300 °C</text>
<text x="718.40" y="22.70" font-size="13.00" text-anchor="end" fill="#A8101E" stroke="#A8101E" stroke-width="0.30">30 °C</text>
<text x="718.40" y="38.84" font-size="13.00" text-anchor="end" fill="#D0121E" stroke="#D0121E" stroke-width="0.30">130 °C</text>
<text x="718.40" y="54.98" font-size="13.00" text-anchor="end" fill="#EAB830" stroke="#EAB830" stroke-width="0.30">200 °C</text>
<text x="718.40" y="71.12" font-size="13.00" text-anchor="end" fill="#109850" stroke="#109850" stroke-width="0.30">245 °C</text>
<text x="718.40" y="87.26" font-size="13.00" text-anchor="end" fill="#1CA0D8" stroke="#1CA0D8" stroke-width="0.30">275 °C</text>
<text x="718.40" y="103.40" font-size="13.00" text-anchor="end" fill="#1C64AA" stroke="#1C64AA" stroke-width="0.30">300 °C</text>
<text x="718.40" y="119.54" font-size="13.00" text-anchor="end" fill="#16204E" stroke="#16204E" stroke-width="0.30">350 °C</text>
<text x="718.40" y="135.68" font-size="13.00" text-anchor="end" fill="#6C3498" stroke="#6C3498" stroke-width="0.30">385 °C</text>
</g></svg>
</body></html>
